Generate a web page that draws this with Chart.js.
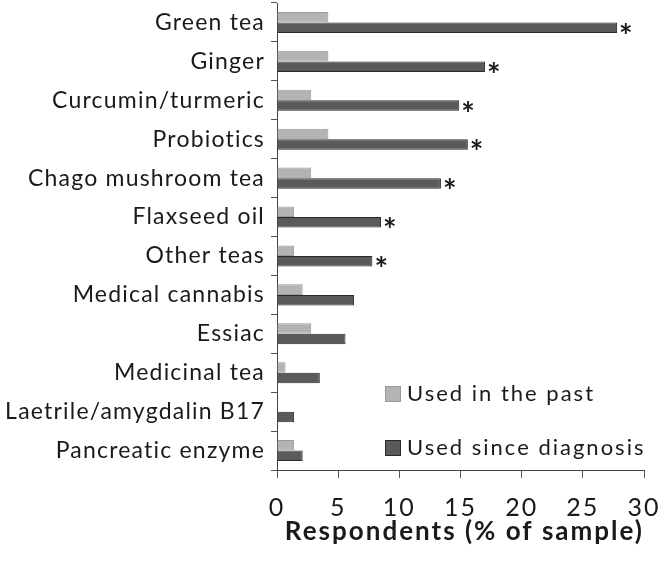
<!DOCTYPE html>
<html>
<head>
<meta charset="utf-8">
<script src="https://cdn.jsdelivr.net/npm/chart.js@4"></script>
<style>
html,body{margin:0;padding:0;background:#fff;}
#wrap{width:663px;height:564px;}
</style>
</head>
<body>
<div id="wrap"><canvas id="c" width="663" height="564"></canvas></div>
<script>
const categories = ["Green tea","Ginger","Curcumin/turmeric","Probiotics","Chago mushroom tea","Flaxseed oil","Other teas","Medical cannabis","Essiac","Medicinal tea","Laetrile/amygdalin B17","Pancreatic enzyme"];
const usedPast = [4.2, 4.2, 2.8, 4.2, 2.8, 1.4, 1.4, 2.1, 2.8, 0.7, 0, 1.4];
const usedSince = [27.8, 17.0, 14.9, 15.6, 13.4, 8.5, 7.8, 6.3, 5.6, 3.5, 1.4, 2.1];
const significant = [true, true, true, true, true, true, true, false, false, false, false, false];
const xTicks = [0, 5, 10, 15, 20, 25, 30];
const seriesLabels = ["Used in the past", "Used since diagnosis"];

const FONT = "Lato, 'DejaVu Sans', sans-serif";
const TXT = "#1a1a1a";

const spacingPlugin = {
  id: 'spacing',
  beforeDraw(chart) {
    chart.ctx.letterSpacing = '2px';
    const s = chart.scales.y;
    if (s && !s._spacedLabels) {
      const orig = s.drawLabels.bind(s);
      s.drawLabels = function (area) {
        chart.ctx.letterSpacing = '1.2px';
        orig(area);
        chart.ctx.letterSpacing = '2px';
      };
      s._spacedLabels = true;
    }
  }
};

const starPlugin = {
  id: 'stars',
  afterDatasetsDraw(chart) {
    const ctx = chart.ctx;
    const meta = chart.getDatasetMeta(1);
    ctx.save();
    ctx.letterSpacing = '0px';
    ctx.fillStyle = TXT;
    ctx.font = "bold 32px " + FONT;
    ctx.textAlign = 'left';
    ctx.textBaseline = 'alphabetic';
    meta.data.forEach((bar, i) => {
      if (significant[i]) ctx.fillText('*', bar.x + 2, bar.y + 20);
    });
    ctx.restore();
  }
};

const legendPlugin = {
  id: 'customLegend',
  afterDraw(chart) {
    const ctx = chart.ctx;
    const ds = chart.data.datasets;
    const positions = [394, 448];
    ctx.save();
    ctx.letterSpacing = '2px';
    ctx.font = "22px " + FONT;
    ctx.textBaseline = 'middle';
    ctx.textAlign = 'left';
    ds.forEach((d, i) => {
      const y = positions[i];
      ctx.fillStyle = d.backgroundColor;
      ctx.fillRect(385, y - 8, 16, 16);
      ctx.strokeStyle = d.borderColor;
      ctx.lineWidth = 1;
      ctx.strokeRect(385.5, y - 7.5, 15, 15);
      ctx.fillStyle = TXT;
      ctx.fillText(d.label, 407, y);
    });
    ctx.restore();
  }
};

new Chart(document.getElementById('c'), {
  type: 'bar',
  data: {
    labels: categories,
    datasets: [
      { label: seriesLabels[0], data: usedPast, backgroundColor: '#b3b3b3', borderColor: '#9a9a9a', borderWidth: 1, categoryPercentage: 0.54, barPercentage: 1.0 },
      { label: seriesLabels[1], data: usedSince, backgroundColor: '#5a5a5a', borderColor: '#2a2a2a', borderWidth: 1, categoryPercentage: 0.54, barPercentage: 1.0 }
    ]
  },
  plugins: [spacingPlugin, starPlugin, legendPlugin],
  options: {
    indexAxis: 'y',
    responsive: false,
    animation: false,
    devicePixelRatio: 1,
    layout: { padding: { top: 3, right: 19, left: 0, bottom: 0 } },
    plugins: { legend: { display: false }, tooltip: { enabled: false } },
    scales: {
      x: {
        min: 0, max: 30,
        afterBuildTicks(scale) { scale.ticks = xTicks.map(v => ({ value: v })); },
        afterFit(scale) { scale.height = 94; scale.paddingLeft = 0; scale.paddingRight = 0; },
        grid: { drawOnChartArea: false, drawTicks: true, tickLength: 8, color: '#555', lineWidth: 1 },
        border: { display: true, color: '#444', width: 1 },
        ticks: { color: TXT, font: { family: FONT, size: 25 }, padding: 15, maxRotation: 0, autoSkip: false },
        title: { display: true, align: 'end', text: 'Respondents (% of sample)', color: TXT, font: { family: FONT, size: 26, weight: 'bold' }, padding: { top: 0, bottom: 17 } }
      },
      y: {
        afterFit(scale) { scale.width = 277; scale.paddingTop = 0; scale.paddingBottom = 0; },
        grid: { drawOnChartArea: false, drawTicks: true, tickLength: 6, color: '#555', lineWidth: 1, offset: true },
        border: { display: true, color: '#444', width: 1 },
        ticks: { color: TXT, font: { family: FONT, size: 23 }, padding: 6, autoSkip: false }
      }
    }
  }
});
</script>
</body>
</html>
